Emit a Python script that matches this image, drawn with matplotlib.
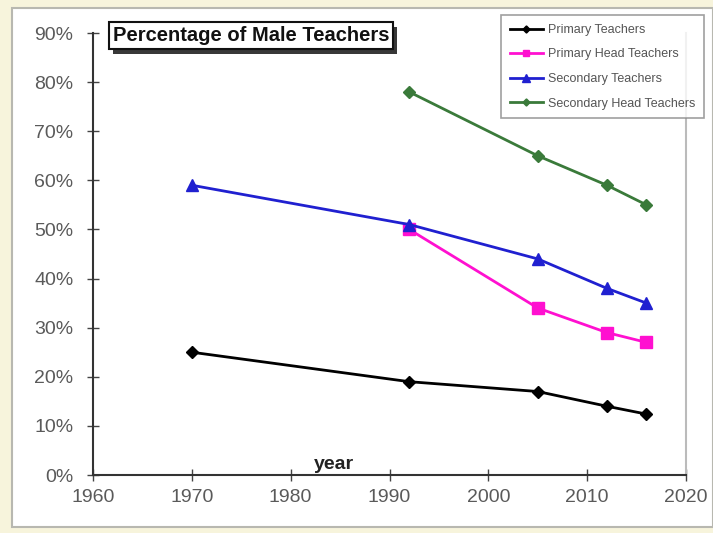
import matplotlib.pyplot as plt
import matplotlib.patheffects as pe
from matplotlib.patches import Rectangle
from matplotlib.ticker import FuncFormatter, MultipleLocator

# 男性教員の割合 (%)
years_primary = [1970, 1992, 2005, 2012, 2016]
primary = [25.0, 19.0, 17.0, 14.0, 12.4]

years_primary_head = [1992, 2005, 2012, 2016]
primary_head = [50.0, 34.0, 29.0, 27.0]

years_secondary = [1970, 1992, 2005, 2012, 2016]
secondary = [59.0, 51.0, 44.0, 38.0, 35.0]

years_secondary_head = [1992, 2005, 2012, 2016]
secondary_head = [78.0, 65.0, 59.0, 55.0]


def main():
    plt.rcParams['font.family'] = ['Liberation Sans', 'DejaVu Sans']
    fig = plt.figure(figsize=(7.13, 5.33), dpi=100)
    fig.patch.set_facecolor('#f7f4dc')
    # 内側の白い枠
    fig.patches.append(Rectangle((12 / 713, 6 / 533), 1 - 12 / 713, 1 - 14 / 533,
                                 transform=fig.transFigure, facecolor='white',
                                 edgecolor='#b8b8b0', linewidth=1.5, zorder=-10))

    ax = fig.add_axes([93 / 713, 58 / 533, 593 / 713, 442 / 533])
    ax.set_facecolor('white')

    ax.plot(years_primary, primary, color='black', marker='D', markersize=6,
            linewidth=2, label='Primary Teachers')
    ax.plot(years_primary_head, primary_head, color='#ff10d0', marker='s', markersize=8,
            linewidth=2, label='Primary Head Teachers')
    ax.plot(years_secondary, secondary, color='#2020d0', marker='^', markersize=9,
            linewidth=2, label='Secondary Teachers')
    ax.plot(years_secondary_head, secondary_head, color='#3a7a3a', marker='D', markersize=6,
            linewidth=2, label='Secondary Head Teachers')

    ax.set_xlim(1960, 2020)
    ax.set_ylim(0, 90)
    ax.xaxis.set_major_locator(MultipleLocator(10))
    ax.yaxis.set_major_locator(MultipleLocator(10))
    ax.yaxis.set_major_formatter(FuncFormatter(lambda v, p: f'{v:.0f}%'))
    ax.tick_params(axis='both', direction='inout', length=8, width=1, colors='#444444',
                   labelsize=14, labelcolor='#5a5a5a')
    ax.tick_params(axis='y', pad=10)
    ax.tick_params(axis='x', pad=6)

    for side in ['left', 'bottom']:
        ax.spines[side].set_color('#333333')
        ax.spines[side].set_linewidth(1.5)
    ax.spines['top'].set_visible(False)
    ax.spines['right'].set_color('#bbbbbb')
    ax.spines['right'].set_linewidth(1.5)

    ax.text(1982.3, 1.2, 'year', fontsize=14, fontweight='bold', color='#222222')
    title = ax.text(1962.0, 89.4, 'Percentage of Male Teachers', fontsize=14.5,
                    fontweight='bold', color='#111111', va='center',
                    bbox=dict(boxstyle='square,pad=0.2', facecolor='white',
                              edgecolor='#111111', linewidth=1.5))
    title.get_bbox_patch().set_path_effects(
        [pe.SimplePatchShadow(offset=(3, -3), shadow_rgbFace='#222222', alpha=0.9),
         pe.Normal()])

    leg = ax.legend(loc='upper left', bbox_to_anchor=(495 / 713, 1 - 9 / 533),
                    bbox_transform=fig.transFigure, fontsize=9, frameon=True,
                    fancybox=False, handlelength=2.6, handletextpad=0.4, borderpad=0.7,
                    labelspacing=1.0, markerscale=0.6)
    leg.get_frame().set_edgecolor('#888888')
    leg.get_frame().set_linewidth(1.2)
    for t in leg.get_texts():
        t.set_color('#555555')

    fig.savefig('out.png', dpi=100, facecolor=fig.get_facecolor())


if __name__ == '__main__':
    main()
